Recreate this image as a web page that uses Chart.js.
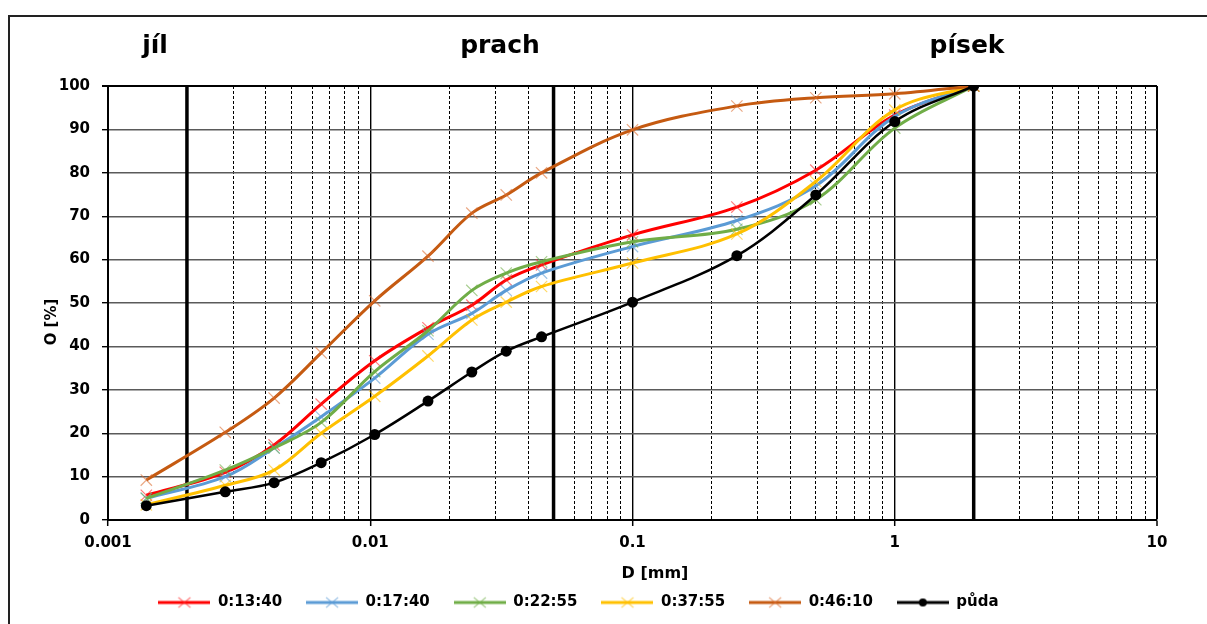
<!DOCTYPE html>
<html><head><meta charset="utf-8">
<script src="https://cdn.jsdelivr.net/npm/chart.js@4.4.1/dist/chart.umd.min.js"></script>
<style>html,body{margin:0;padding:0;background:#fff;}#wrap{width:1207px;height:624px;position:relative;}</style>
</head><body><div id="wrap"><canvas id="c" width="1207" height="624"></canvas></div>
<script>
// ---- data ----
const diameters = [0.0014, 0.0028, 0.0043, 0.0065, 0.0104, 0.0166, 0.0244, 0.033, 0.045, 0.1, 0.25, 0.5, 1, 2];
const seriesNames = ['0:13:40', '0:17:40', '0:22:55', '0:37:55', '0:46:10', 'půda'];
const pass_1340 = [5.7, 11.0, 17.3, 26.7, 36.7, 44.3, 49.5, 55.3, 58.8, 65.7, 72.1, 80.6, 93.3, 100];
const pass_1740 = [5.0, 10.0, 16.6, 23.8, 32.7, 42.8, 47.6, 52.9, 56.9, 63.0, 69.0, 77.0, 93.0, 100];
const pass_2255 = [5.0, 11.5, 16.6, 22.5, 34.2, 43.6, 52.9, 56.9, 59.5, 64.1, 67.0, 73.8, 90.3, 100];
const pass_3755 = [3.5, 8.0, 11.5, 20.0, 28.5, 37.8, 46.1, 50.2, 53.8, 59.2, 65.9, 78.0, 94.5, 100];
const pass_4610 = [9.2, 20.2, 28.1, 38.5, 50.5, 60.8, 70.7, 74.9, 80.0, 89.9, 95.4, 97.3, 98.2, 100];
const pass_puda = [3.3, 6.5, 8.6, 13.2, 19.7, 27.4, 34.1, 38.9, 42.2, 50.2, 60.9, 74.9, 91.8, 100];
const zoneBoundaries = [0.002, 0.05, 2];
const zoneNames = ['jíl', 'prach', 'písek'];
const xTickValues = [0.001, 0.01, 0.1, 1, 10];
const xTickLabels = ['0.001', '0.01', '0.1', '1', '10'];
const xTitle = 'D [mm]';
const yTitle = 'O [%]';

// ---- styles ----
const lineColors = ['#FF0000', '#5B9BD5', '#70AD47', '#FFC000', '#C55A11', '#000000'];
const markColors = ['rgba(255,40,40,0.6)', 'rgba(91,155,213,0.6)', 'rgba(112,173,71,0.6)', 'rgba(255,192,0,0.6)', 'rgba(220,110,50,0.6)', '#000'];
const allSeries = [pass_1340, pass_1740, pass_2255, pass_3755, pass_4610, pass_puda];
const FONT = 'DejaVu Sans';

function legendImg(lineColor, markColor, dot) {
  const c = document.createElement('canvas'); c.width = 52; c.height = 16;
  const g = c.getContext('2d');
  g.strokeStyle = lineColor; g.lineWidth = 3;
  g.beginPath(); g.moveTo(0, 8); g.lineTo(52, 8); g.stroke();
  if (dot) { g.fillStyle = lineColor; g.beginPath(); g.arc(26, 8, 4, 0, Math.PI * 2); g.fill(); }
  else { g.strokeStyle = markColor; g.lineWidth = 1.2; g.beginPath(); g.moveTo(20, 3); g.lineTo(32, 13); g.moveTo(32, 3); g.lineTo(20, 13); g.stroke(); }
  return c;
}
const legendImages = lineColors.map((c, i) => legendImg(c, markColors[i], i === 5));

const datasets = allSeries.map((vals, i) => {
  const isSoil = i === 5;
  return {
    label: seriesNames[i],
    data: diameters.map((d, k) => ({ x: d, y: vals[k] })),
    borderColor: lineColors[i],
    backgroundColor: lineColors[i],
    borderWidth: isSoil ? 2.5 : 3,
    tension: 0.35,
    pointStyle: isSoil ? 'circle' : 'crossRot',
    pointRadius: isSoil ? 5.5 : 8,
    pointBorderWidth: isSoil ? 0 : 1.2,
    pointBorderColor: markColors[i],
    pointBackgroundColor: markColors[i],
    order: 6 - i
  };
});
zoneBoundaries.forEach(b => {
  datasets.push({
    label: '', data: [{ x: b, y: 0 }, { x: b, y: 100 }],
    borderColor: '#000', borderWidth: 3.5, pointRadius: 0, tension: 0, order: 20
  });
});

function isMajorX(v) { return xTickValues.findIndex(t => Math.abs(Math.log10(v) - Math.log10(t)) < 1e-6); }

const decor = {
  id: 'decor',
  beforeDraw(chart) {
    const ctx = chart.ctx;
    ctx.save();
    ctx.fillStyle = '#fff'; ctx.fillRect(0, 0, chart.width, chart.height);
    ctx.strokeStyle = '#222'; ctx.lineWidth = 2;
    ctx.strokeRect(9, 16, 1300, 700);
    ctx.restore();
  },
  afterDraw(chart) {
    const ctx = chart.ctx;
    ctx.save();
    ctx.fillStyle = '#000';
    ctx.font = 'bold 25px "' + FONT + '"';
    ctx.textAlign = 'center'; ctx.textBaseline = 'alphabetic';
    const zx = [155, 500, 967];
    zoneNames.forEach((n, i) => ctx.fillText(n, zx[i], 53));
    ctx.font = 'bold 16px "' + FONT + '"';
    ctx.textBaseline = 'middle';
    ctx.fillText(xTitle, 655, 574);
    ctx.font = 'bold 15px "' + FONT + '"';
    ctx.translate(52, 322); ctx.rotate(-Math.PI / 2);
    ctx.fillText(yTitle, 0, 0);
    ctx.restore();
  }
};

new Chart(document.getElementById('c'), {
  type: 'line',
  data: { datasets },
  options: {
    responsive: false, animation: false,
    layout: { padding: { left: 0, right: 50, top: 86, bottom: 4 } },
    plugins: {
      tooltip: { enabled: false },
      legend: {
        position: 'bottom',
        labels: {
          usePointStyle: true, pointStyleWidth: 52, padding: 24, color: '#000',
          font: { family: FONT, size: 15, weight: 'bold' },
          generateLabels(chart) {
            const items = Chart.defaults.plugins.legend.labels.generateLabels(chart);
            return items.filter(it => it.datasetIndex < 6)
              .sort((a, b) => a.datasetIndex - b.datasetIndex)
              .map(it => Object.assign({}, it, { pointStyle: legendImages[it.datasetIndex], rotation: 0 }));
          }
        }
      }
    },
    scales: {
      x: {
        type: 'logarithmic', min: 0.001, max: 10,
        afterBuildTicks(scale) {
          const t = [];
          for (let e = -3; e <= 0; e++) for (let s = 1; s <= 9; s++) t.push({ value: Number((s * Math.pow(10, e)).toPrecision(6)) });
          t.push({ value: 10 });
          scale.ticks = t;
        },
        afterFit(scale) { scale.height = 51; },
        ticks: {
          autoSkip: false, maxRotation: 0, minRotation: 0, padding: 8, color: '#000',
          font: { family: FONT, size: 15, weight: 'bold' },
          callback(v) { const i = isMajorX(v); return i >= 0 ? xTickLabels[i] : ''; }
        },
        grid: {
          color: '#000',
          lineWidth: c => { const i = c.tick ? isMajorX(c.tick.value) : -1; return i === 4 ? 2 : (i >= 0 ? 1.4 : 1); },
          tickLength: 6,
          tickColor: c => (c.tick && isMajorX(c.tick.value) >= 0) ? '#000' : 'rgba(0,0,0,0)',
          tickWidth: 1.5
        },
        border: {
          color: '#000', width: 2,
          dash: c => (c.tick && isMajorX(c.tick.value) < 0) ? [3, 2] : []
        }
      },
      y: {
        min: 0, max: 100,
        afterFit(scale) { scale.width = 108; },
        ticks: { stepSize: 10, padding: 12, color: '#000', font: { family: FONT, size: 15, weight: 'bold' } },
        grid: {
          color: c => (c.tick && c.tick.value === 100) ? '#000' : '#5a5a5a',
          lineWidth: c => (c.tick && c.tick.value === 100) ? 2 : 1.4,
          tickLength: 6, tickColor: '#000'
        },
        border: { color: '#000', width: 2 }
      }
    }
  },
  plugins: [decor]
});
</script></body></html>
